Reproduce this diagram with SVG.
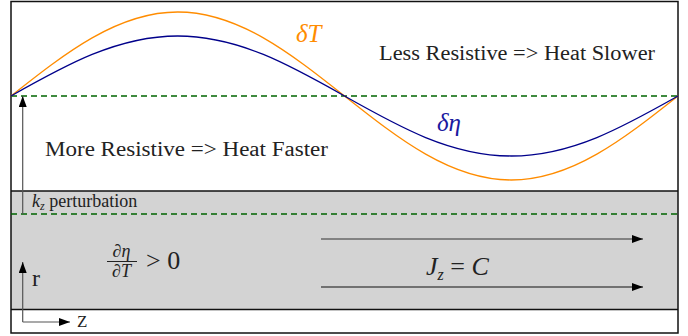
<svg xmlns="http://www.w3.org/2000/svg" width="688" height="336" viewBox="0 0 688 336">
<defs>
<marker id="ah" markerUnits="userSpaceOnUse" markerWidth="12" markerHeight="8" refX="11" refY="4" orient="auto">
<path d="M0,0 L11,4 L0,8 z" fill="#000"/>
</marker>
</defs>
<rect x="0" y="0" width="688" height="336" fill="#fff"/>
<g id="band" stroke="#111" stroke-width="1.5">
<rect x="11" y="191" width="667" height="118.5" fill="#d3d3d3" stroke="none"/>
<line x1="11" y1="191" x2="678" y2="191"/>
<line x1="11" y1="309.5" x2="678" y2="309.5"/>
</g>
<rect x="11" y="1.5" width="667" height="331.5" fill="none" stroke="#111" stroke-width="1.5"/>
<g id="baselines" stroke="#006400" stroke-width="1.6" stroke-dasharray="6 4" fill="none">
<line x1="11" y1="96" x2="678" y2="96"/>
<line x1="11" y1="214" x2="678" y2="214"/>
</g>
<g id="curves" fill="none" stroke-width="1.3">
<path id="dT" d="M11,96 C65.38,53 117.41,12 177.75,12 C238.09,12 290.12,53 344.5,96 C398.88,139 450.91,180 511.25,180 C571.59,180 623.62,139 678,96" stroke="#ff8c00"/>
<path id="deta" d="M11,96 C65.38,65.26 117.41,36 177.75,36 C238.09,36 290.12,65.26 344.5,96 C398.88,126.74 450.91,156 511.25,156 C571.59,156 623.62,126.74 678,96" stroke="#00008b"/>
</g>
<g id="connectors" fill="none" stroke-width="1.2">
<line x1="22.7" y1="214" x2="22.7" y2="96" stroke="#555" marker-end="url(#ah)"/>
<line x1="22.7" y1="322" x2="22.7" y2="262" stroke="#555" marker-end="url(#ah)"/>
<line x1="22.7" y1="322" x2="70" y2="322" stroke="#555" marker-end="url(#ah)"/>
<line x1="321" y1="239" x2="643" y2="239" stroke="#333" marker-end="url(#ah)"/>
<line x1="321" y1="287" x2="643" y2="287" stroke="#111" marker-end="url(#ah)"/>
</g>
<g id="labels" font-family="'Liberation Serif', 'DejaVu Serif', serif" fill="#222">
<text x="296" y="42" font-style="italic" font-size="25" fill="#ff8c00">δT</text>
<text x="437" y="131" font-style="italic" font-size="25" fill="#1a1aa0">δη</text>
<text x="379" y="60" font-size="20.5" textLength="276" lengthAdjust="spacingAndGlyphs">Less Resistive =&gt; Heat Slower</text>
<text x="45" y="156" font-size="20.5" textLength="283" lengthAdjust="spacingAndGlyphs">More Resistive =&gt; Heat Faster</text>
<text x="32" y="207" font-size="18"><tspan font-style="italic">k</tspan><tspan font-style="italic" font-size="12" dy="3">z</tspan><tspan dy="-3"> perturbation</tspan></text>
<g id="frac">
<text x="121.5" y="257" font-style="italic" font-size="18" text-anchor="middle">∂η</text>
<line x1="107" y1="261.5" x2="137" y2="261.5" stroke="#222" stroke-width="1"/>
<text x="121.5" y="277" font-style="italic" font-size="18" text-anchor="middle">∂T</text>
<text x="146" y="269" font-size="26">&gt; 0</text>
</g>
<text x="426" y="275" font-size="26"><tspan font-style="italic">J</tspan><tspan font-style="italic" font-size="16" dy="5">z</tspan><tspan dy="-5"> = </tspan><tspan font-style="italic">C</tspan></text>
<text x="32" y="286" font-size="24">r</text>
<text x="77" y="327" font-size="17">Z</text>
</g>
</svg>
